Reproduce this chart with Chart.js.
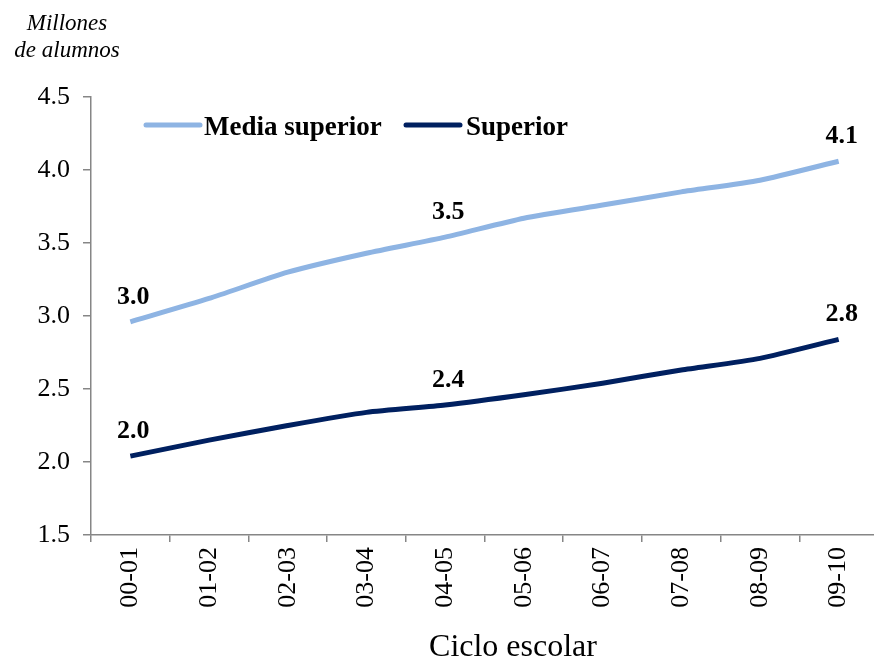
<!DOCTYPE html>
<html>
<head>
<meta charset="utf-8">
<script src="https://cdn.jsdelivr.net/npm/chart.js@4"></script>
<style>
  body { margin: 0; overflow: hidden; background: #fff; }
  #caja { width: 880px; height: 662px; }
</style>
</head>
<body>
<div id="caja"><canvas id="grafico" width="880" height="662"></canvas></div>
<script>
// Datos del gráfico
const ciclos = ["00-01", "01-02", "02-03", "03-04", "04-05", "05-06", "06-07", "07-08", "08-09", "09-10"];
const mediaSuperior = [2.96, 3.12, 3.30, 3.43, 3.54, 3.67, 3.76, 3.85, 3.93, 4.06];
const superior = [2.04, 2.15, 2.25, 2.34, 2.39, 2.46, 2.54, 2.63, 2.71, 2.84];
const puntosEtiquetados = [0, 4, 9];
const marcasY = [1.5, 2.0, 2.5, 3.0, 3.5, 4.0, 4.5];

const fuente = "'Liberation Serif', 'Times New Roman', serif";
const gris = "#868686";

// Textos extra: etiquetas de datos, leyenda y títulos
const extras = {
    id: "extras",
    afterDatasetsDraw(chart) {
        const ctx = chart.ctx;
        ctx.save();
        ctx.fillStyle = "#000";

        // etiquetas de datos
        ctx.font = "bold 26px " + fuente;
        ctx.textAlign = "center";
        ctx.textBaseline = "middle";
        chart.data.datasets.forEach((ds, i) => {
            const meta = chart.getDatasetMeta(i);
            puntosEtiquetados.forEach(idx => {
                const p = meta.data[idx];
                ctx.fillText(ds.data[idx].toFixed(1), p.x + 3, p.y - 25);
            });
        });

        // leyenda dentro del área
        ctx.font = "bold 27px " + fuente;
        const items = [{ x: 146, texto: 204 }, { x: 406, texto: 466 }];
        chart.data.datasets.forEach((ds, i) => {
            ctx.strokeStyle = ds.borderColor;
            ctx.lineWidth = 5;
            ctx.lineCap = "round";
            ctx.beginPath();
            ctx.moveTo(items[i].x, 125);
            ctx.lineTo(items[i].x + 54, 125);
            ctx.stroke();
            ctx.textAlign = "left";
            ctx.textBaseline = "alphabetic";
            ctx.fillText(ds.label, items[i].texto, 135);
        });

        // título del eje y (arriba a la izquierda)
        ctx.font = "italic 23px " + fuente;
        ctx.textAlign = "center";
        ctx.fillText("Millones", 67, 30);
        ctx.fillText("de alumnos", 67, 57);

        // título del eje x
        ctx.font = "32px " + fuente;
        ctx.textBaseline = "middle";
        ctx.fillText("Ciclo escolar", 513, 648);
        ctx.restore();
    }
};

const ctx = document.getElementById("grafico").getContext("2d");
new Chart(ctx, {
    type: "line",
    data: {
        labels: ciclos,
        datasets: [
            {
                label: "Media superior",
                data: mediaSuperior,
                borderColor: "#8EB4E3",
                borderWidth: 5,
                pointRadius: 0,
                tension: 0.2,
                fill: false
            },
            {
                label: "Superior",
                data: superior,
                borderColor: "#002060",
                borderWidth: 5,
                pointRadius: 0,
                tension: 0.2,
                fill: false
            }
        ]
    },
    options: {
        responsive: false,
        animation: false,
        layout: { padding: { top: 97, right: 2, left: 0, bottom: 0 } },
        plugins: {
            legend: { display: false },
            tooltip: { enabled: false }
        },
        scales: {
            x: {
                offset: true,
                grid: {
                    offset: true,
                    drawOnChartArea: false,
                    color: gris,
                    lineWidth: 1.5,
                    tickLength: 7
                },
                border: { color: gris, width: 1.5 },
                ticks: {
                    color: "#000",
                    font: { family: fuente, size: 26 },
                    minRotation: 90,
                    maxRotation: 90,
                    autoSkip: false,
                    padding: 5
                },
                afterFit(scale) { scale.height = 127; }
            },
            y: {
                min: 1.5,
                max: 4.5,
                afterBuildTicks(scale) {
                    scale.ticks = marcasY.map(v => ({ value: v }));
                },
                grid: {
                    drawOnChartArea: false,
                    color: gris,
                    lineWidth: 1.5,
                    tickLength: 8
                },
                border: { color: gris, width: 1.5 },
                ticks: {
                    color: "#000",
                    font: { family: fuente, size: 26 },
                    padding: 13,
                    callback: v => Number(v).toFixed(1)
                },
                afterFit(scale) { scale.width = 91; }
            }
        }
    },
    plugins: [extras]
});
</script>
</body>
</html>
